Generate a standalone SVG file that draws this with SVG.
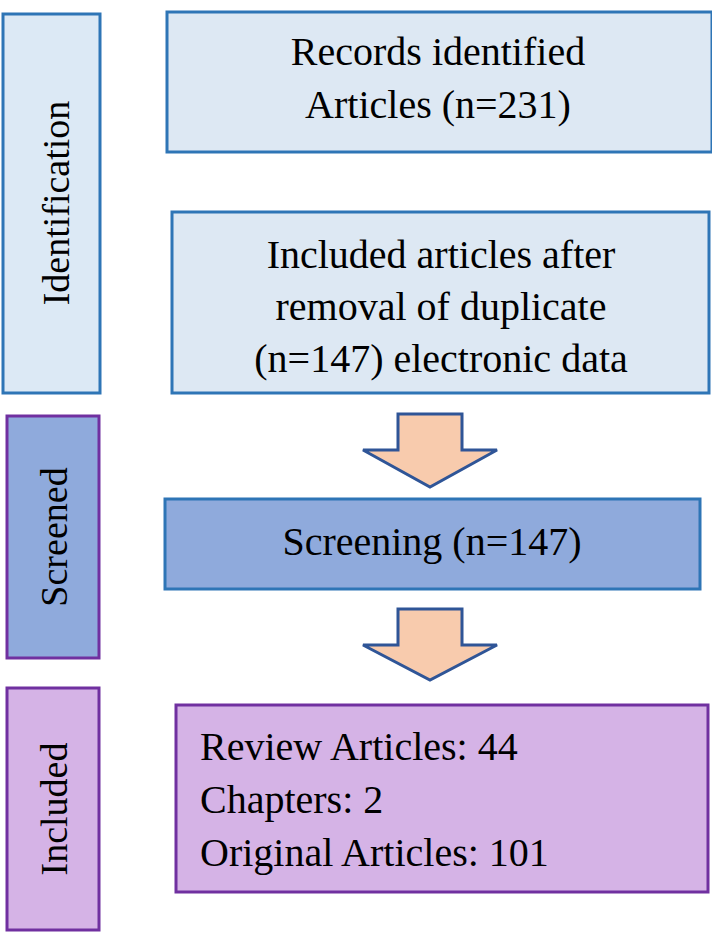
<svg xmlns="http://www.w3.org/2000/svg" width="712" height="942" viewBox="0 0 712 942">
<style>
text{font-family:"Liberation Serif","Times New Roman",serif;fill:#000}
.t{font-size:40px;text-anchor:middle}
.l{font-size:40px}
.s{font-size:38px;text-anchor:middle}
.arr{fill:#f8cbad;stroke:#2f5597;stroke-width:3}
</style>
<rect width="712" height="942" fill="#fff"/>
<g id="side-identification"><rect x="3" y="14" width="97" height="379" fill="#dce9f5" stroke="#2e75b6" stroke-width="3"/><text class="s" transform="translate(69,203) rotate(-90)">Identification</text></g>
<g id="side-screened"><rect x="7" y="416" width="92" height="242" fill="#8faadc" stroke="#7030a0" stroke-width="3"/><text class="s" transform="translate(67,537) rotate(-90)">Screened</text></g>
<g id="side-included"><rect x="7" y="688" width="92" height="242" fill="#d5b3e6" stroke="#7030a0" stroke-width="3"/><text class="s" transform="translate(67,809) rotate(-90)">Included</text></g>
<g id="records"><rect x="167" y="12" width="545" height="140" fill="#dde8f3" stroke="#2e75b6" stroke-width="3"/><text class="t" x="438" y="65">Records identified</text><text class="t" x="438" y="118">Articles (n=231)</text></g>
<g id="deduplicated"><rect x="172" y="212" width="537" height="181" fill="#dde8f3" stroke="#2e75b6" stroke-width="3"/><text class="t" x="441" y="268">Included articles after</text><text class="t" x="441" y="320">removal of duplicate</text><text class="t" x="441" y="372">(n=147) electronic data</text></g>
<g id="screening"><rect x="165" y="499" width="535" height="90" fill="#8faadc" stroke="#2e75b6" stroke-width="3"/><text class="t" x="432" y="555">Screening (n=147)</text></g>
<g id="included"><rect x="176" y="705" width="532" height="187" fill="#d5b3e6" stroke="#7030a0" stroke-width="3"/><text class="l" x="200" y="760">Review Articles: 44</text><text class="l" x="200" y="813">Chapters: 2</text><text class="l" x="200" y="866">Original Articles: 101</text></g>
<g id="connectors">
<polygon class="arr" points="398,414 462,414 462,450 497,450 430,487 363,450 398,450"/>
<polygon class="arr" points="398,609 462,609 462,645 497,645 430,680 363,645 398,645"/>
</g>
</svg>
